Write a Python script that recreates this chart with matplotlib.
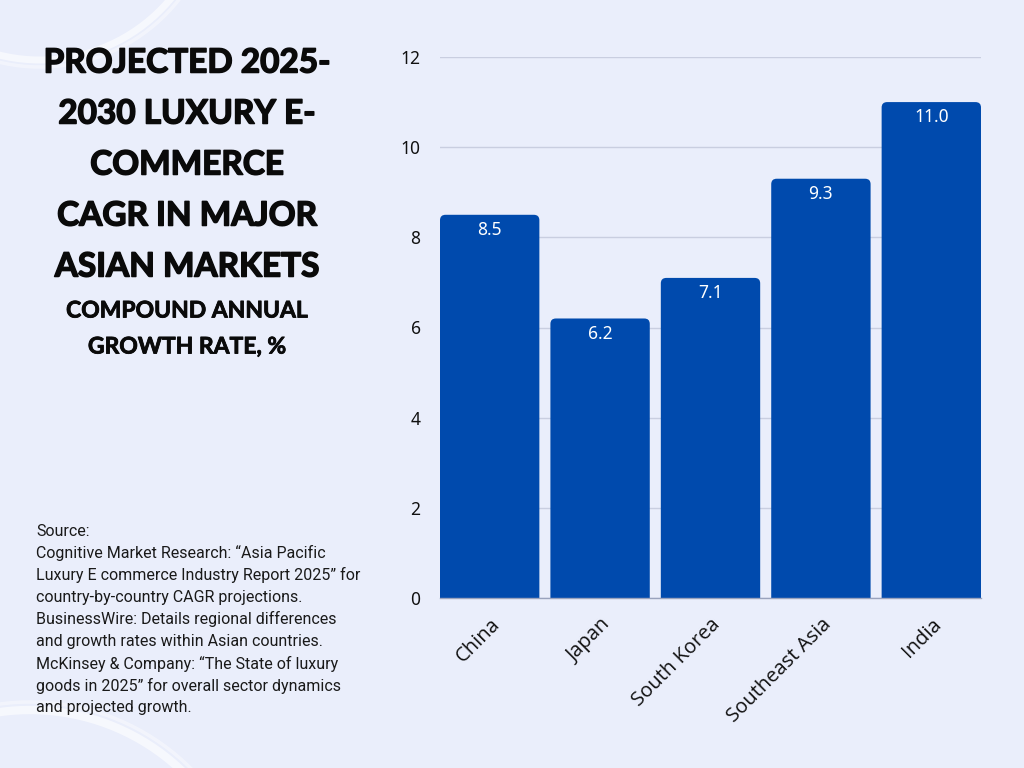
import numpy as np
import matplotlib
matplotlib.use("Agg")
import matplotlib.pyplot as plt
import matplotlib.patheffects as pe
from matplotlib.patches import FancyBboxPatch, Arc

# ----------------------------------------------------------------------
# Data
# ----------------------------------------------------------------------
markets = ["China", "Japan", "South Korea", "Southeast Asia", "India"]
cagr = [8.5, 6.2, 7.1, 9.3, 11.0]
y_ticks = [0, 2, 4, 6, 8, 10, 12]

title_lines = ["PROJECTED 2025-", "2030 LUXURY E-", "COMMERCE",
               "CAGR IN MAJOR", "ASIAN MARKETS"]
subtitle_lines = ["COMPOUND ANNUAL", "GROWTH RATE, %"]
source_lines = ["Source:",
                "Cognitive Market Research: \u201cAsia Pacific",
                "Luxury E commerce Industry Report 2025\u201d for",
                "country-by-country CAGR projections.",
                "BusinessWire: Details regional differences",
                "and growth rates within Asian countries.",
                "McKinsey & Company: \u201cThe State of luxury",
                "goods in 2025\u201d for overall sector dynamics",
                "and projected growth."]

BG = "#EAEEFB"
BAR = "#004AAD"
GRID = "#C9CEE0"
W, H = 1024, 768

fig = plt.figure(figsize=(10.24, 7.68), dpi=100, facecolor=BG)

# background decorations (faint white brush arcs), pixel coordinates
bg = fig.add_axes([0, 0, 1, 1])
bg.set_xlim(0, W)
bg.set_ylim(H, 0)
bg.axis("off")
bg.set_zorder(-1)
for r, lw, a in [(170, 5, 0.6), (177, 2.5, 0.4)]:
    bg.add_patch(Arc((40, -110), 2 * r, 2 * r, theta1=30, theta2=118,
                     color="white", lw=lw, alpha=a))
for r, lw, a in [(220, 6, 0.6), (228, 2.5, 0.4)]:
    bg.add_patch(Arc((30, 930), 2 * r, 2 * r, theta1=245, theta2=322,
                     color="white", lw=lw, alpha=a))

# ----------------------------------------------------------------------
# Bar chart
# ----------------------------------------------------------------------
ax = fig.add_axes([440 / W, 1 - 598 / H, 541 / W, 541 / H])
ax.set_facecolor("none")
xs = np.arange(len(markets))
width = 0.9
ax.set_xlim(-0.45, len(markets) - 0.55)
ax.set_ylim(0, 12)

for x, v in zip(xs, cagr):
    box = FancyBboxPatch((x - width / 2, -1), width, v + 1,
                         boxstyle="round,pad=0,rounding_size=0.05",
                         mutation_aspect=2.4, fc=BAR, ec="none",
                         zorder=3, clip_on=True)
    ax.add_patch(box)
    ax.annotate(f"{v:.1f}", (x, v), xytext=(0, -11), textcoords="offset points",
                ha="center", va="center", color="white", fontsize=12.5,
                family="Noto Sans", zorder=4)

ax.set_yticks(y_ticks)
ax.set_yticklabels([str(t) for t in y_ticks], family="Noto Sans", fontsize=12.5)
ax.yaxis.grid(True, color=GRID, lw=1)
ax.set_axisbelow(True)
ax.tick_params(axis="y", length=0, pad=14, colors="#111111")
ax.tick_params(axis="x", length=0, pad=12)
ax.set_xticks(xs)
ax.set_xticklabels(markets, rotation=45, ha="right", rotation_mode="anchor",
                   family="Open Sans", fontsize=14.5, color="#111111")
for s in ["top", "right", "left"]:
    ax.spines[s].set_visible(False)
ax.spines["bottom"].set_color("#9AA3BD")
ax.spines["bottom"].set_linewidth(1)
ax.spines["bottom"].set_zorder(5)

# ----------------------------------------------------------------------
# Text panel
# ----------------------------------------------------------------------
heavy = [pe.withStroke(linewidth=1.1, foreground="#0A0A0A")]
for i, line in enumerate(title_lines):
    fig.text(187 / W, 1 - (63 + 51 * i) / H, line, ha="center", va="center",
             fontsize=24, family="Lato", fontweight="bold", color="#0A0A0A",
             path_effects=heavy)
for i, line in enumerate(subtitle_lines):
    fig.text(187 / W, 1 - (311 + 36 * i) / H, line, ha="center", va="center",
             fontsize=16.5, family="Lato", fontweight="bold", color="#0A0A0A",
             path_effects=[pe.withStroke(linewidth=0.6, foreground="#0A0A0A")])
for i, line in enumerate(source_lines):
    fig.text(36 / W, 1 - (531 + 22.1 * i) / H, line, ha="left", va="center",
             fontsize=11.5, family="Roboto", color="#1A1A1A")

fig.savefig("out.png", dpi=100, facecolor=BG)
